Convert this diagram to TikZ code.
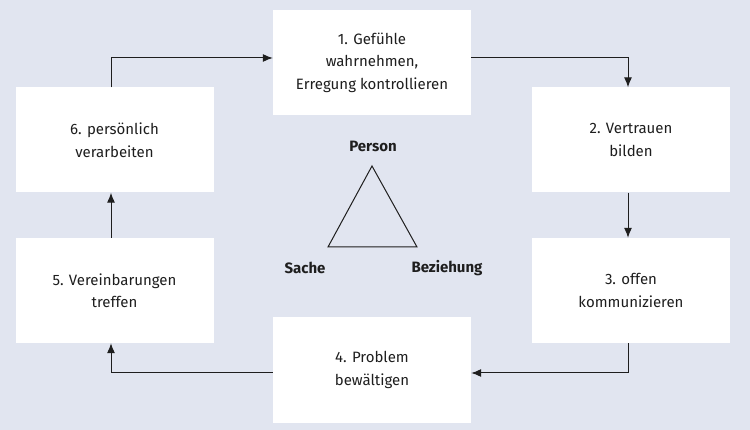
\documentclass[tikz,border=0pt]{standalone}
\usepackage{fontspec}
\setmainfont{Fira Sans}
\usetikzlibrary{arrows.meta}
\definecolor{bg}{RGB}{225,229,240}
\definecolor{ink}{RGB}{30,30,30}
\begin{document}
\begin{tikzpicture}[x=1pt,y=-1pt,
  box/.style={fill=white,draw=none,minimum width=198pt,minimum height=105pt,align=center,
    font=\fontsize{15}{22.5}\selectfont,text=ink,inner sep=0pt},
  conn/.style={draw=ink,line width=1pt,-{Latex[length=10pt,width=8pt]}},
  lbl/.style={font=\fontsize{15}{18}\selectfont\bfseries,text=ink,inner sep=0pt}]
\fill[bg] (0,0) rectangle (750,430);
\useasboundingbox (0,0) rectangle (750,430);
\node[box] (b1) at (372,62.5) {1. Gefühle\\wahrnehmen,\\Erregung kontrollieren};
\node[box] (b2) at (631,140) {2. Vertrauen\\bilden};
\node[box] (b3) at (631,290.5) {3. offen\\kommunizieren};
\node[box] (b4) at (372,370) {4. Problem\\bewältigen};
\node[box] (b5) at (114.5,290.5) {5. Vereinbarungen\\treffen};
\node[box] (b6) at (114.5,140) {6. persönlich\\verarbeiten};
\coordinate (c1) at (111,58);
\coordinate (c2) at (628,58);
\coordinate (c3) at (628,373);
\coordinate (c4) at (111,373);
\draw[conn] (b6.north -| c1) -- (c1) -- (c1 -| b1.west);
\draw[conn] (c2 -| b1.east) -- (c2) -- (c2 |- b2.north);
\draw[conn] (c2 |- b2.south) -- (c2 |- b3.north);
\draw[conn] (c3 |- b3.south) -- (c3) -- (c3 -| b4.east);
\draw[conn] (c4 -| b4.west) -- (c4) -- (c4 |- b5.south);
\draw[conn] (c1 |- b5.north) -- (c1 |- b6.south);
\coordinate (t1) at (372,166);
\coordinate (t2) at (328,247);
\coordinate (t3) at (417,247);
\draw[draw=ink,line width=1pt,line join=miter] (t1) -- (t2) -- (t3) -- cycle;
\node[lbl] (p) at (373,146) {Person};
\node[lbl] (s) at (305,268) {Sache};
\node[lbl] (z) at (447,268) {Beziehung};
\end{tikzpicture}
\end{document}
